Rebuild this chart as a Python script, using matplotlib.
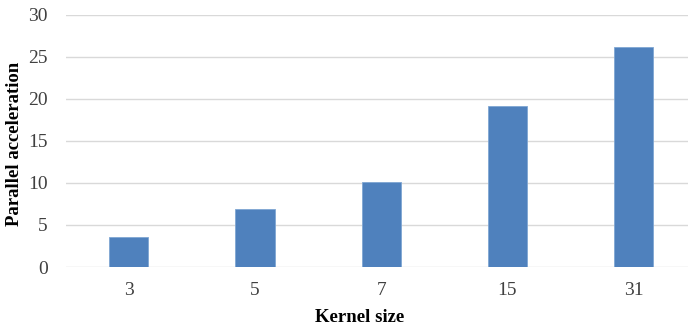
import matplotlib
matplotlib.use("Agg")
import matplotlib.pyplot as plt

kernel_sizes = ["3", "5", "7", "15", "31"]
acceleration = [3.6, 6.85, 10.1, 19.1, 26.1]
y_ticks = [0, 5, 10, 15, 20, 25, 30]

plt.rcParams['font.family'] = ['Liberation Serif', 'DejaVu Serif']

fig = plt.figure(figsize=(6.88, 3.29), dpi=100)
# plot area runs slightly past the right edge of the image, like the original crop
ax = fig.add_axes([65.6 / 688, 62 / 329, 631.2 / 688, 252.5 / 329])

x = range(len(kernel_sizes))
ax.bar(x, acceleration, width=0.31, color='#4F81BD', edgecolor='#7FA6D3',
       linewidth=0.6, zorder=3)

ax.set_xlim(-0.5, len(kernel_sizes) - 0.5)
ax.set_ylim(0, 30)
ax.set_yticks(y_ticks)
ax.set_xticks(list(x))
ax.set_xticklabels(kernel_sizes)

ax.grid(axis='y', color='#D9D9D9', linewidth=1.0, zorder=0)
for s in ax.spines.values():
    s.set_visible(False)
ax.tick_params(axis='both', length=0, labelsize=14, labelcolor='#404040')
ax.tick_params(axis='y', pad=13)
ax.tick_params(axis='x', pad=11)

ax.set_ylabel('Parallel acceleration', fontsize=13.5, fontweight='bold')
ax.yaxis.set_label_coords((23 - 65.6) / 631.2, (267 - 143.5) / 252.5)
ax.set_xlabel('Kernel size', fontsize=13.5, fontweight='bold')
ax.xaxis.set_label_coords((360 - 65.6) / 631.2, -(309 - 267) / 252.5)

fig.savefig('out.png', dpi=100, facecolor='white')
